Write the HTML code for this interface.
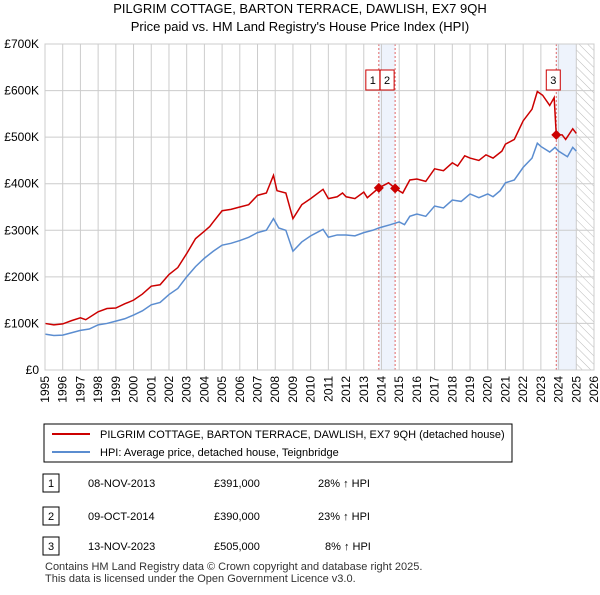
<!DOCTYPE html>
<html><head><meta charset="utf-8"><style>
body{margin:0;background:#fff;font-family:"Liberation Sans",sans-serif;}
svg text{font-family:"Liberation Sans",sans-serif;}
</style></head><body>
<svg width="600" height="590" xmlns="http://www.w3.org/2000/svg">
<defs><pattern id="hatch" width="6" height="6" patternUnits="userSpaceOnUse" patternTransform="rotate(-45)"><line x1="0" y1="0" x2="0" y2="6" stroke="#bbb" stroke-width="1"/></pattern></defs>
<text x="300" y="13" font-size="13" text-anchor="middle">PILGRIM COTTAGE, BARTON TERRACE, DAWLISH, EX7 9QH</text>
<text x="300" y="31" font-size="13" text-anchor="middle">Price paid vs. HM Land Registry's House Price Index (HPI)</text>
<g id="plot"></g>
<rect x="44" y="424" width="468" height="38" fill="#fff" stroke="#000"/>
<line x1="52" y1="434" x2="90" y2="434" stroke="#cc0000" stroke-width="2"/>
<text x="100" y="438" font-size="11">PILGRIM COTTAGE, BARTON TERRACE, DAWLISH, EX7 9QH (detached house)</text>
<line x1="52" y1="452" x2="90" y2="452" stroke="#5b8dd0" stroke-width="2"/>
<text x="100" y="456" font-size="11">HPI: Average price, detached house, Teignbridge</text>
<g font-size="11">
<rect x="43" y="474" width="16" height="18" fill="#fff" stroke="#000"/><text x="51" y="487" text-anchor="middle">1</text>
<text x="88" y="487">08-NOV-2013</text><text x="214" y="487">£391,000</text><text x="318" y="487">28% ↑ HPI</text>
<rect x="43" y="507" width="16" height="18" fill="#fff" stroke="#000"/><text x="51" y="520" text-anchor="middle">2</text>
<text x="88" y="520">09-OCT-2014</text><text x="214" y="520">£390,000</text><text x="318" y="520">23% ↑ HPI</text>
<rect x="43" y="537" width="16" height="18" fill="#fff" stroke="#000"/><text x="51" y="550" text-anchor="middle">3</text>
<text x="88" y="550">13-NOV-2023</text><text x="214" y="550">£505,000</text><text x="325" y="550">8% ↑ HPI</text>
</g>
<text x="45" y="570" font-size="11" fill="#333">Contains HM Land Registry data © Crown copyright and database right 2025.</text>
<text x="45" y="582" font-size="11" fill="#333">This data is licensed under the Open Government Licence v3.0.</text>
</svg>
<script>
const hpiX=[1995,1995.5,1996,1996.5,1997,1997.5,1998,1998.5,1999,1999.5,2000,2000.5,2001,2001.5,2002,2002.5,2003,2003.5,2004,2004.5,2005,2005.5,2006,2006.5,2007,2007.5,2007.9,2008.2,2008.6,2009,2009.5,2010,2010.5,2010.7,2011,2011.5,2012,2012.5,2013,2013.5,2013.85,2014.5,2015,2015.3,2015.6,2016,2016.5,2017,2017.5,2018,2018.5,2019,2019.5,2020,2020.3,2020.7,2021,2021.5,2022,2022.5,2022.8,2023,2023.5,2023.8,2024,2024.5,2024.8,2025];
const hpiY=[77,74,75,80,85,88,97,100,105,110,118,127,140,145,162,175,200,222,240,255,268,272,278,285,295,300,325,305,300,255,275,288,298,302,285,290,290,288,295,300,305,312,318,312,330,335,330,352,348,365,362,378,370,378,372,385,402,408,435,455,487,480,468,478,470,458,478,470];
const ppX=[1995,1995.5,1996,1996.5,1997,1997.3,1998,1998.5,1999,1999.5,2000,2000.5,2001,2001.5,2002,2002.5,2003,2003.5,2004,2004.3,2004.5,2005,2005.5,2006,2006.5,2007,2007.5,2007.9,2008.1,2008.6,2009,2009.5,2010,2010.7,2011,2011.5,2011.8,2012,2012.5,2013,2013.2,2013.85,2014.4,2014.77,2015.2,2015.6,2016,2016.5,2017,2017.5,2018,2018.3,2018.7,2019,2019.5,2019.9,2020.3,2020.8,2021,2021.5,2022,2022.5,2022.8,2023.1,2023.5,2023.75,2023.87,2024.2,2024.4,2024.8,2025];
const ppY=[100,97,99,106,112,108,125,132,133,142,150,163,180,183,205,220,250,282,298,308,318,342,345,350,355,375,380,418,385,380,325,355,368,388,368,372,380,372,368,382,370,391,402,390,380,408,410,405,432,428,445,438,460,455,450,462,455,470,485,495,535,560,598,590,568,585,505,505,495,518,508];
const saleX=[2013.85,2014.77,2023.87];
const saleY=[391,390,505];
const yTicks=[0,100,200,300,400,500,600,700];
const yLabels=["£0","£100K","£200K","£300K","£400K","£500K","£600K","£700K"];
const xYears=[];for(let y=1995;y<=2026;y++)xYears.push(y);
const L=45,R=594,T=44,B=370;
const sx=v=>L+(v-1995)/(2026-1995)*(R-L);
const sy=v=>B-v/700*(B-T);
const NS="http://www.w3.org/2000/svg";
const g=document.getElementById('plot');
function mk(t,a){const e=document.createElementNS(NS,t);for(const k in a)e.setAttribute(k,a[k]);g.appendChild(e);return e;}
let e;
e=mk('rect',{x:sx(saleX[0]),y:T,width:sx(saleX[1])-sx(saleX[0]),height:B-T,fill:'#eef3fc'});


e=mk('rect',{x:sx(saleX[2]),y:T,width:sx(2025)-sx(saleX[2]),height:B-T,fill:'#eef3fc'});


e=mk('rect',{x:sx(2025),y:T,width:R-sx(2025),height:B-T,fill:'url(#hatch)'});


xYears.forEach(y=>{e=mk('line',{x1:sx(y),x2:sx(y),y1:T,y2:B,stroke:'#ccc','stroke-width':1});


e=mk('text',{x:0,y:0,'font-size':12,'text-anchor':'end',transform:`translate(${sx(y)+4},${B+6}) rotate(-90)`});e.textContent=y;

});
yTicks.forEach((v,i)=>{e=mk('line',{x1:L,x2:R,y1:sy(v),y2:sy(v),stroke:'#ccc','stroke-width':1});


e=mk('text',{x:L-6,y:sy(v)+4,'font-size':12,'text-anchor':'end'});e.textContent=yLabels[i];

});
saleX.forEach((x,i)=>{e=mk('line',{x1:sx(x),x2:sx(x),y1:T,y2:B,stroke:'#e06666','stroke-width':1,'stroke-dasharray':'2,2'});

});
const lab=[[sx(saleX[0])-6,'1'],[sx(saleX[1])-8,'2'],[sx(saleX[2])-3,'3']];
lab.forEach(l=>{e=mk('rect',{x:l[0]-7,y:70,width:14,height:20,fill:'#fff',stroke:'#cc0000'});


e=mk('text',{x:l[0],y:84,'font-size':11,'text-anchor':'middle'});e.textContent=l[1];

});
e=mk('polyline',{points:hpiX.map((x,i)=>sx(x)+','+sy(hpiY[i])).join(' '),fill:'none',stroke:'#5b8dd0','stroke-width':1.5});


e=mk('polyline',{points:ppX.map((x,i)=>sx(x)+','+sy(ppY[i])).join(' '),fill:'none',stroke:'#cc0000','stroke-width':1.5});


saleX.forEach((x,i)=>{const cx=sx(x),cy=sy(saleY[i]);e=mk('polygon',{points:`${cx},${cy-5} ${cx+5},${cy} ${cx},${cy+5} ${cx-5},${cy}`,fill:'#cc0000'});

});
e=mk('rect',{x:L,y:T,width:R-L,height:B-T,fill:'none',stroke:'#ccc'});


</script>
</body></html>
